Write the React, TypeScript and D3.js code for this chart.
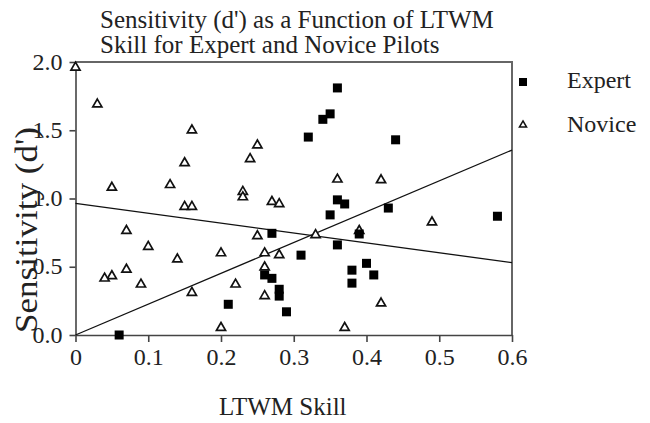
import React, { useEffect, useRef } from "react";
import * as d3 from "d3";

// Values
const expertX = [0.36, 0.35, 0.34, 0.32, 0.44, 0.36, 0.37, 0.43, 0.58, 0.35, 0.27, 0.39, 0.36, 0.31, 0.4, 0.38, 0.26, 0.41, 0.27, 0.38, 0.28, 0.28, 0.21, 0.29, 0.06];
const expertY = [1.81, 1.62, 1.58, 1.45, 1.43, 0.99, 0.96, 0.93, 0.87, 0.88, 0.745, 0.74, 0.66, 0.585, 0.525, 0.475, 0.44, 0.44, 0.415, 0.38, 0.335, 0.285, 0.225, 0.17, 0.0];

const noviceX = [0.0, 0.03, 0.16, 0.25, 0.24, 0.15, 0.36, 0.42, 0.13, 0.05, 0.23, 0.23, 0.27, 0.28, 0.15, 0.16, 0.49, 0.07, 0.39, 0.33, 0.25, 0.1, 0.2, 0.26, 0.28, 0.14, 0.26, 0.07, 0.05, 0.04, 0.09, 0.22, 0.16, 0.26, 0.42, 0.2, 0.37];
const noviceY = [1.96, 1.69, 1.5, 1.39, 1.29, 1.26, 1.14, 1.135, 1.1, 1.08, 1.05, 1.01, 0.976, 0.96, 0.94, 0.94, 0.826, 0.764, 0.764, 0.733, 0.725, 0.647, 0.6, 0.6, 0.586, 0.555, 0.496, 0.48, 0.432, 0.415, 0.371, 0.371, 0.31, 0.286, 0.232, 0.053, 0.053];

// regression lines (endpoints at x = 0 and x = 0.6)
const fitX = [0, 0.6];
const expertFitY = [0, 1.355];
const noviceFitY = [0.965, 0.53];

const xTicks = [0, 0.1, 0.2, 0.3, 0.4, 0.5, 0.6];
const xTickLabels = ["0", "0.1", "0.2", "0.3", "0.4", "0.5", "0.6"];
const yTicks = [0, 0.5, 1.0, 1.5, 2.0];
const yTickLabels = ["0.0", "0.5", "1.0", "1.5", "2.0"];

const titleLines = ["Sensitivity (d') as a Function of LTWM", "Skill for Expert and Novice Pilots"];
const seriesNames = ["Expert", "Novice"];

const App: React.FC = () => {
  const svgRef = useRef<SVGSVGElement>(null);
  const width = 650;
  const height = 423;
  const plot = { left: 75.5, right: 512, top: 62, bottom: 335 };
  const font = "'Liberation Serif', 'Times New Roman', serif";
  const axisColor = "#444";
  const textColor = "#222";

  useEffect(() => {
    if (!svgRef.current) return;
    const svg = d3.select(svgRef.current);
    svg.selectAll("*").remove();

    const xScale = d3.scaleLinear().domain([0, 0.6]).range([plot.left, plot.right]);
    const yScale = d3.scaleLinear().domain([0, 2]).range([plot.bottom, plot.top]);

    // Title
    titleLines.forEach((t, i) => {
      svg
        .append("text")
        .attr("x", 100)
        .attr("y", 28 + i * 25)
        .attr("font-family", font)
        .attr("font-size", "25px")
        .attr("fill", textColor)
        .text(t);
    });

    // Frame: top and right borders
    svg
      .append("path")
      .attr("d", `M${plot.left},${plot.top}H${plot.right}V${plot.bottom}`)
      .attr("fill", "none")
      .attr("stroke", "#666")
      .attr("stroke-width", 2);

    // Axes
    const xAxis = svg
      .append("g")
      .attr("transform", `translate(0,${plot.bottom})`)
      .call(
        d3
          .axisBottom(xScale)
          .tickValues(xTicks)
          .tickSize(7)
          .tickSizeOuter(0)
          .tickPadding(6)
          .tickFormat((_, i) => xTickLabels[i])
      )
      .attr("font-family", font)
      .attr("font-size", "24px");
    xAxis.select(".domain").attr("stroke", axisColor).attr("stroke-width", 1.6);
    xAxis.selectAll("line").attr("stroke", axisColor).attr("stroke-width", 1.6);
    xAxis
      .selectAll("text")
      .attr("fill", textColor)
      .attr("font-family", font)
      .attr("font-size", "24px")
      .attr("dy", "0.72em");

    const yAxis = svg
      .append("g")
      .attr("transform", `translate(${plot.left},0)`)
      .call(
        d3
          .axisLeft(yScale)
          .tickValues(yTicks)
          .tickSize(6)
          .tickSizeOuter(0)
          .tickPadding(7)
          .tickFormat((_, i) => yTickLabels[i])
      )
      .attr("font-family", font)
      .attr("font-size", "24px");
    yAxis.select(".domain").attr("stroke", axisColor).attr("stroke-width", 1.6);
    yAxis.selectAll("line").attr("stroke", axisColor).attr("stroke-width", 1.6);
    yAxis
      .selectAll("text")
      .attr("fill", textColor)
      .attr("font-family", font)
      .attr("font-size", "24px")
      .attr("dy", "0.3em");

    // Axis titles
    svg
      .append("text")
      .attr("x", 219)
      .attr("y", 415)
      .attr("font-family", font)
      .attr("font-size", "25px")
      .attr("fill", textColor)
      .text("LTWM Skill");

    svg
      .append("text")
      .attr("transform", `translate(37,230) rotate(-90)`)
      .attr("text-anchor", "middle")
      .attr("font-family", font)
      .attr("font-size", "32px")
      .attr("textLength", 206)
      .attr("lengthAdjust", "spacingAndGlyphs")
      .attr("fill", textColor)
      .text("Sensitivity (d')");

    // Regression lines
    const line = d3
      .line<number>()
      .x((_, i) => xScale(fitX[i]))
      .y((d) => yScale(d));
    [expertFitY, noviceFitY].forEach((ys) => {
      svg
        .append("path")
        .attr("d", line(ys))
        .attr("fill", "none")
        .attr("stroke", "#111")
        .attr("stroke-width", 1.3);
    });

    const tri = d3.symbol().type(d3.symbolTriangle).size(36);
    const sq = 9;

    // Novice points
    svg
      .append("g")
      .selectAll("path")
      .data(noviceX.map((x, i) => [x, noviceY[i]]))
      .enter()
      .append("path")
      .attr("d", tri)
      .attr("transform", (d) => `translate(${xScale(d[0])},${yScale(d[1])})`)
      .attr("fill", "#fff")
      .attr("stroke", "#111")
      .attr("stroke-width", 1.7);

    // Expert points
    svg
      .append("g")
      .selectAll("rect")
      .data(expertX.map((x, i) => [x, expertY[i]]))
      .enter()
      .append("rect")
      .attr("x", (d) => xScale(d[0]) - sq / 2)
      .attr("y", (d) => yScale(d[1]) - sq / 2)
      .attr("width", sq)
      .attr("height", sq)
      .attr("fill", "#000");

    // Legend
    const legend = svg.append("g");
    legend
      .append("rect")
      .attr("x", 519)
      .attr("y", 78)
      .attr("width", 8)
      .attr("height", 8)
      .attr("fill", "#000");
    legend
      .append("path")
      .attr("d", d3.symbol().type(d3.symbolTriangle).size(22)())
      .attr("transform", "translate(523,125)")
      .attr("fill", "#fff")
      .attr("stroke", "#111")
      .attr("stroke-width", 1.5);
    seriesNames.forEach((name, i) => {
      legend
        .append("text")
        .attr("x", 567)
        .attr("y", 88 + i * 44)
        .attr("font-family", font)
        .attr("font-size", "24px")
        .attr("fill", textColor)
        .text(name);
    });
  }, []);

  return (
    <svg
      ref={svgRef}
      width={width}
      height={height}
      style={{ position: "absolute", left: 0, top: 0, background: "#fff" }}
    />
  );
};

export default App;
